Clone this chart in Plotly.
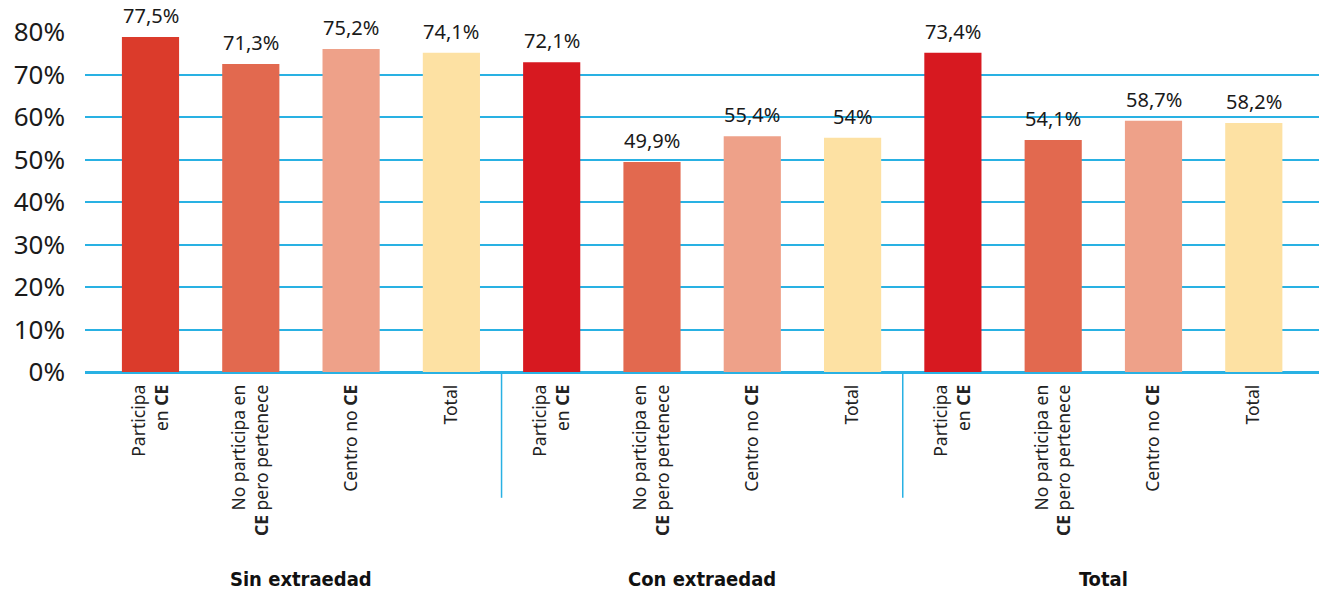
import plotly.graph_objects as go

groups = ["Sin extraedad", "Con extraedad", "Total"]
subcats = [
    "Participa<br>en <b>CE</b>",
    "No participa en<br><b>CE</b> pero pertenece",
    "Centro no <b>CE</b>",
    "Total",
]
# bar heights (%)
values = [78.8, 72.5, 76.0, 75.1,
          72.9, 49.4, 55.5, 55.1,
          75.1, 54.6, 59.1, 58.6]
# printed data labels
labels = ["77,5%", "71,3%", "75,2%", "74,1%",
          "72,1%", "49,9%", "55,4%", "54%",
          "73,4%", "54,1%", "58,7%", "58,2%"]
colors = ["#db3b2b", "#e2694f", "#eea189", "#fde1a3",
          "#d71920", "#e2694f", "#eea189", "#fde1a3",
          "#d71920", "#e2694f", "#eea189", "#fde1a3"]
yticks = [0, 10, 20, 30, 40, 50, 60, 70, 80]

n = len(values)
xs = list(range(n))
ticktext = [subcats[i % 4] for i in xs]

BODY = "Noto Sans, Open Sans, sans-serif"
COND = "Liberation Sans Narrow, DejaVu Sans Condensed, Roboto, sans-serif"
GRID = "#29b1e3"

fig = go.Figure()
fig.add_trace(go.Bar(
    x=xs, y=values, marker_color=colors, width=0.57,
    marker_line_width=0, hoverinfo="skip", cliponaxis=False,
))

annotations = []
for i in xs:
    annotations.append(dict(
        x=i, y=values[i], xref="x", yref="y", text=labels[i],
        showarrow=False, yanchor="bottom", yshift=6,
        font=dict(family=BODY, size=20, color="#1a1a1a"),
    ))
for g, name in enumerate(groups):
    annotations.append(dict(
        x=g * 4 + 1.5, y=-0.609, xref="x", yref="paper", text="<b>" + name + "</b>",
        showarrow=False, yanchor="middle",
        font=dict(family=COND, size=20, color="#111111"),
    ))

shapes = []
for g in range(1, len(groups)):
    shapes.append(dict(
        type="line", xref="x", yref="paper", x0=g * 4 - 0.5, x1=g * 4 - 0.5,
        y0=0, y1=-0.37, line=dict(color=GRID, width=1.5),
    ))

fig.update_layout(
    width=1319, height=582,
    margin=dict(l=77, r=6, t=24, b=218),
    paper_bgcolor="white", plot_bgcolor="white",
    showlegend=False,
    annotations=annotations, shapes=shapes,
    bargap=0.43,
)
fig.update_xaxes(
    range=[-0.653, 11.67], tickvals=xs, ticktext=ticktext, tickangle=-90,
    tickfont=dict(family=BODY, size=17.5, color="#222222"),
    showgrid=False, zeroline=False, showline=True, linecolor=GRID, linewidth=1.5,
    ticks="", ticklabelstandoff=4,
)
fig.update_yaxes(
    range=[0, 80], tickvals=yticks, ticktext=[f"{v}%" for v in yticks],
    tickfont=dict(family=BODY, size=26, color="#1a1a1a"),
    showgrid=True, gridcolor=GRID, gridwidth=1.5,
    zeroline=True, zerolinecolor=GRID, zerolinewidth=1.5,
    ticks="", ticklabelstandoff=19, showline=False,
)

fig.write_html("out.html")
